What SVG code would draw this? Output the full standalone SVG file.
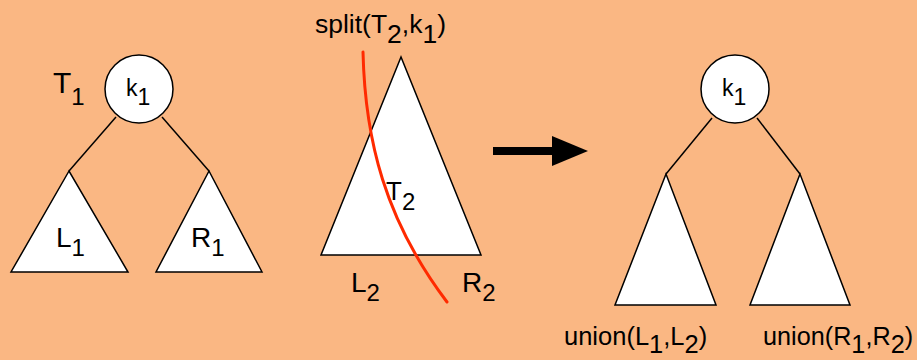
<svg xmlns="http://www.w3.org/2000/svg" width="917" height="360" viewBox="0 0 917 360">
<style>
.bg{fill:#FAB783}
.shape{fill:#FFFFFF;stroke:#000000;stroke-width:1.5;stroke-linejoin:miter}
.edge{stroke:#000000;stroke-width:1.5;fill:none}
.t{font-family:"Liberation Sans",Arial,Helvetica,sans-serif;fill:#000000}
.cut{fill:none;stroke:#FF2A00;stroke-width:3;stroke-linecap:round}
</style>
<rect class="bg" x="0" y="0" width="917" height="360"/>
<g id="connectors">
<line class="edge" x1="116" y1="117" x2="69" y2="171"/>
<line class="edge" x1="162" y1="117" x2="209" y2="171"/>
<line class="edge" x1="712" y1="118" x2="666" y2="174"/>
<line class="edge" x1="757" y1="118" x2="800" y2="174"/>
<rect x="493" y="147" width="60" height="8" fill="#000000"/>
<polygon points="552,136 588,151 552,166" fill="#000000"/>
</g>
<g id="label-T1"><text class="t" x="53" y="93" font-size="30">T<tspan font-size="24" y="105">1</tspan></text></g>
<g id="node-k1-left">
<circle class="shape" cx="139" cy="89" r="34"/>
<text class="t" x="126" y="96" font-size="23">k<tspan y="105">1</tspan></text>
</g>
<g id="node-L1">
<polygon class="shape" points="69,171 11,272 128,272"/>
<text class="t" x="56" y="247" font-size="28">L<tspan font-size="24" y="256">1</tspan></text>
</g>
<g id="node-R1">
<polygon class="shape" points="209,171 156,272 262,272"/>
<text class="t" x="191" y="247" font-size="28">R<tspan font-size="24" y="256">1</tspan></text>
</g>
<g id="node-T2">
<polygon class="shape" points="401,57 321,255 481,255"/>
<text class="t" x="386" y="200" font-size="26">T<tspan font-size="24" y="210">2</tspan></text>
</g>
<g id="split-curve">
<path class="cut" d="M363,52 C365,140 385,220 447,302"/>
</g>
<g id="label-split"><text class="t" font-size="25" transform="translate(315,33) scale(1.06,1)">split(T<tspan y="10">2</tspan><tspan y="0">,k</tspan><tspan y="10">1</tspan><tspan y="0">)</tspan></text></g>
<g id="label-L2"><text class="t" x="351" y="292" font-size="28">L<tspan font-size="24" y="301">2</tspan></text></g>
<g id="label-R2"><text class="t" x="462" y="292" font-size="28">R<tspan font-size="24" y="301">2</tspan></text></g>
<g id="node-k1-right">
<circle class="shape" cx="735" cy="89" r="34"/>
<text class="t" x="722" y="96" font-size="23">k<tspan y="105">1</tspan></text>
</g>
<g id="node-union-L">
<polygon class="shape" points="666,174 615,305 716,305"/>
<text class="t" font-size="25" transform="translate(564,345) scale(1.02,1)">union(L<tspan y="8">1</tspan><tspan y="0">,L</tspan><tspan y="8">2</tspan><tspan y="0">)</tspan></text>
</g>
<g id="node-union-R">
<polygon class="shape" points="800,174 750,305 850,305"/>
<text class="t" font-size="25" transform="translate(763,345) scale(1.01,1)">union(R<tspan y="8">1</tspan><tspan y="0">,R</tspan><tspan y="8">2</tspan><tspan y="0">)</tspan></text>
</g>
</svg>
